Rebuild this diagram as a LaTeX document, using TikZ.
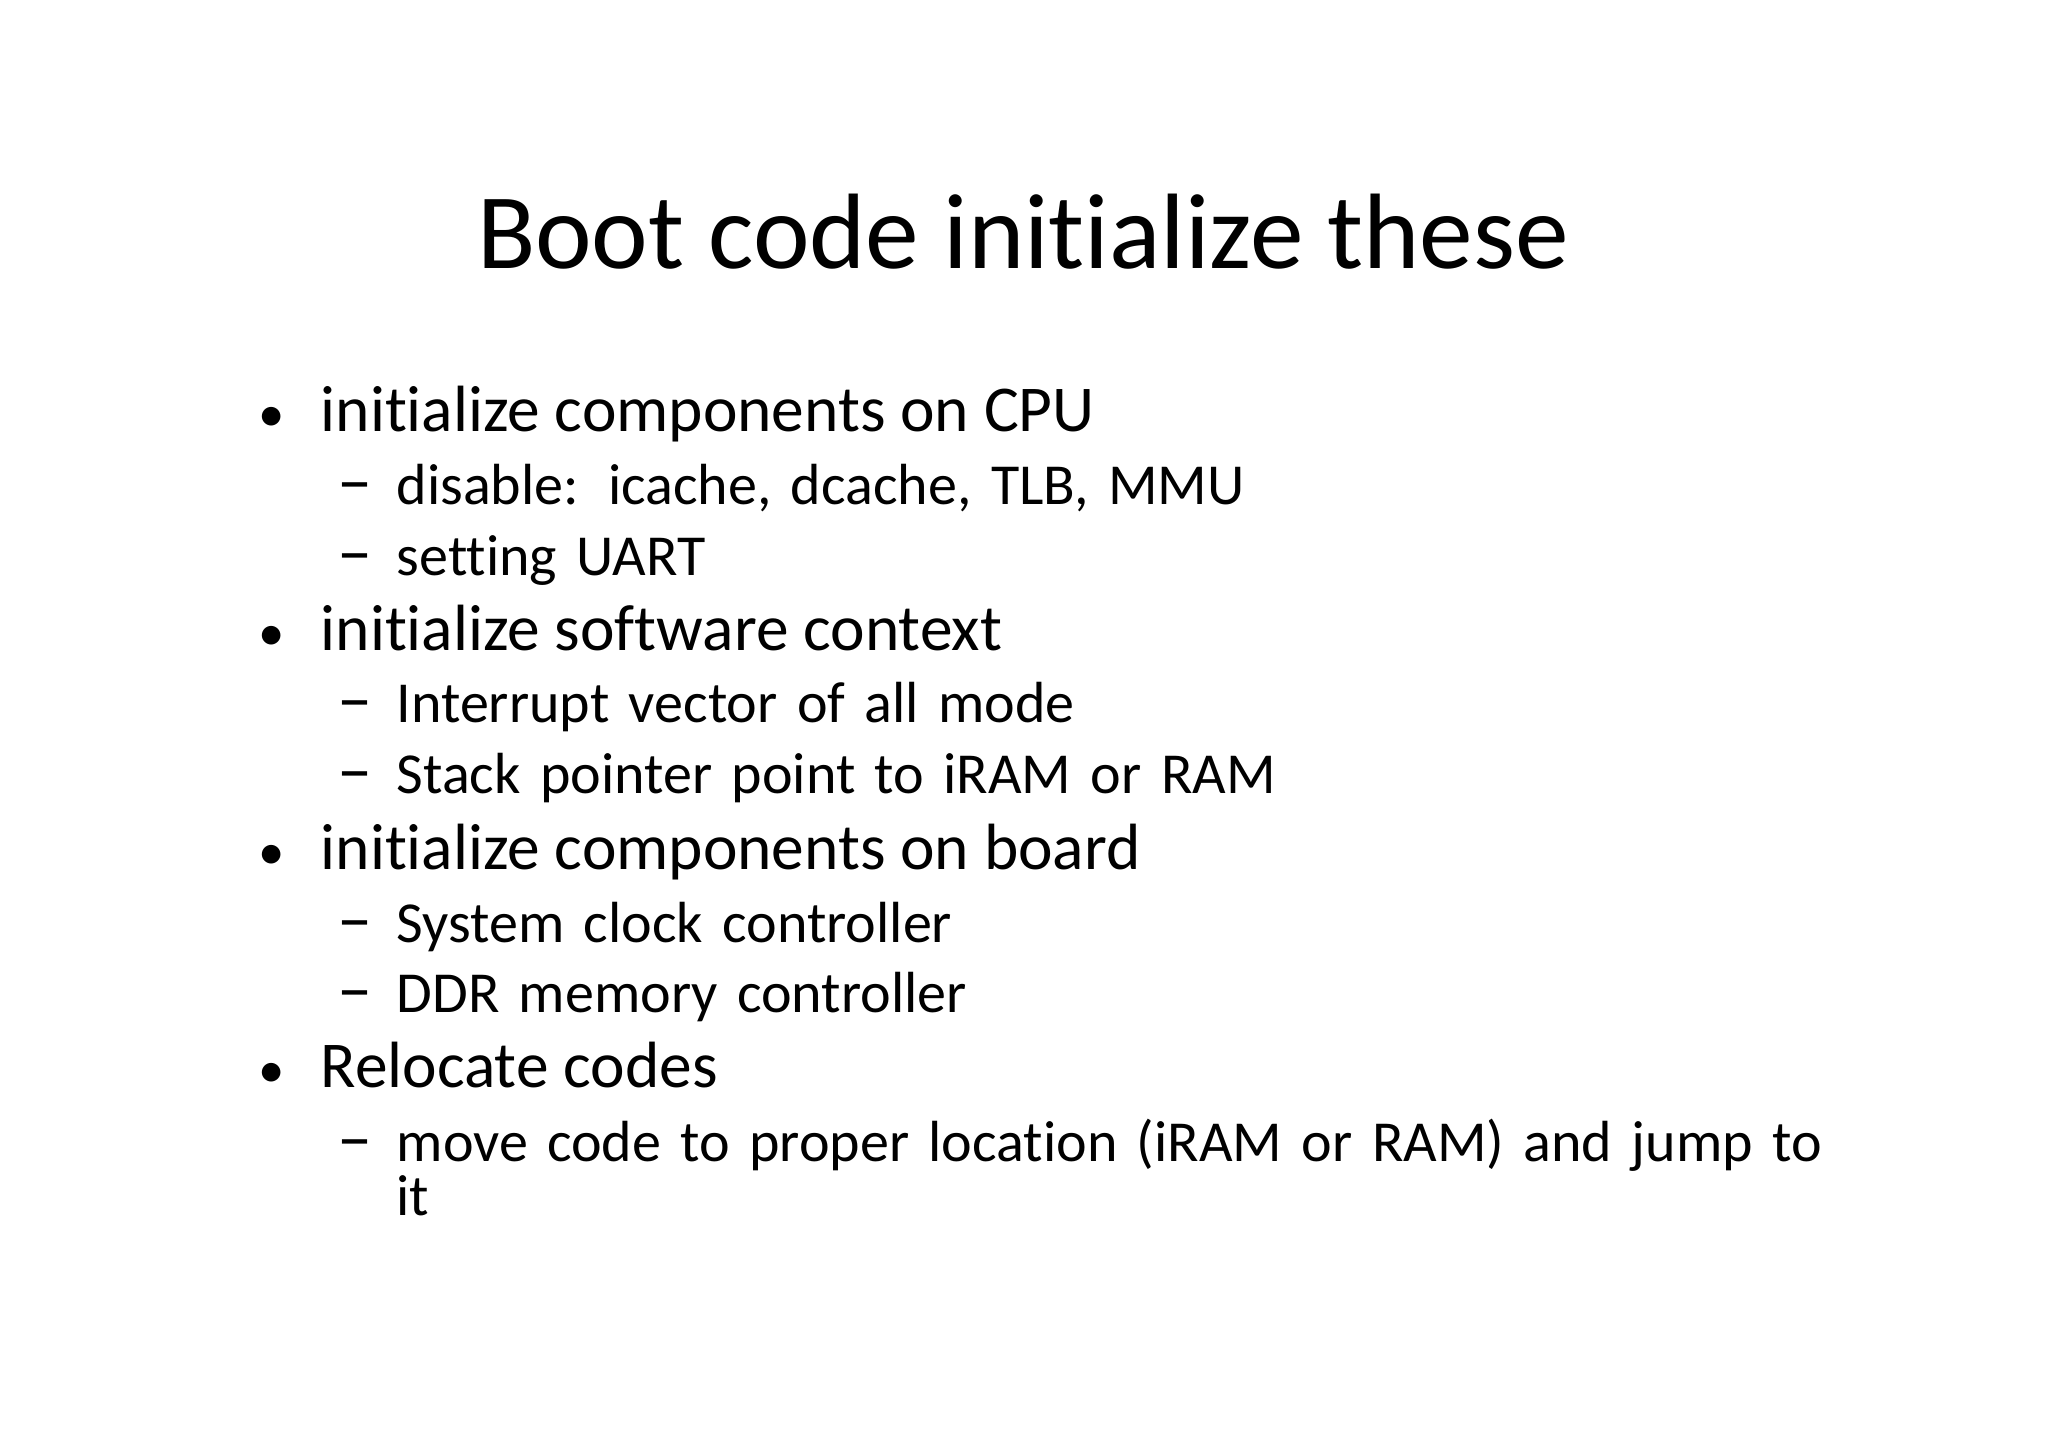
\documentclass[tikz,border=0pt]{standalone}
\usepackage{fontspec}
\setmainfont{Carlito}[Ligatures=NoCommon]
\begin{document}
\begin{tikzpicture}[x=0.01cm,y=-0.01cm,
  ttl/.style={anchor=base,font=\fontsize{30.5}{34}\selectfont},
  lone/.style={anchor=base west,font=\fontsize{18.6}{22}\selectfont},
  ltwo/.style={anchor=base west,font=\fontsize{16.5}{15.4}\selectfont,align=left,text width=14.5cm,inner sep=0pt},
  bul/.style={anchor=base,font=\fontsize{15}{18}\selectfont},
  dsh/.style={anchor=base west,font=\fontsize{20}{19}\selectfont,inner sep=0pt}]
\useasboundingbox (0,0) rectangle (2048,1448);
\node[ttl] (t) at (1023,268) {Boot code initialize these};
\foreach \n/\y/\s in {a/431/initialize components on CPU, b/650/initialize software context, c/869/initialize components on board, d/1087/Relocate codes}{
  \node[bul] (b\n) at (272,\y) {•};
  \node[lone,inner sep=0pt] (l\n) at (320,\y) {\s};
}
\foreach \n/\y/\s in {a/504/{disable: icache, dcache, TLB, MMU}, b/575/setting UART, c/722/Interrupt vector of all mode, d/793/Stack pointer point to iRAM or RAM, e/942/System clock controller, f/1012/DDR memory controller}{
  \node[dsh] (d\n) at (337,\y) {–};
  \node[ltwo] (s\n) at (396,\y) {\s};
}
\node[dsh] (dg) at (337,1161) {–};
\node[ltwo] (sg) at (396,1161) {move code to proper location (iRAM or RAM) and jump to\\ it};
\end{tikzpicture}
\end{document}
